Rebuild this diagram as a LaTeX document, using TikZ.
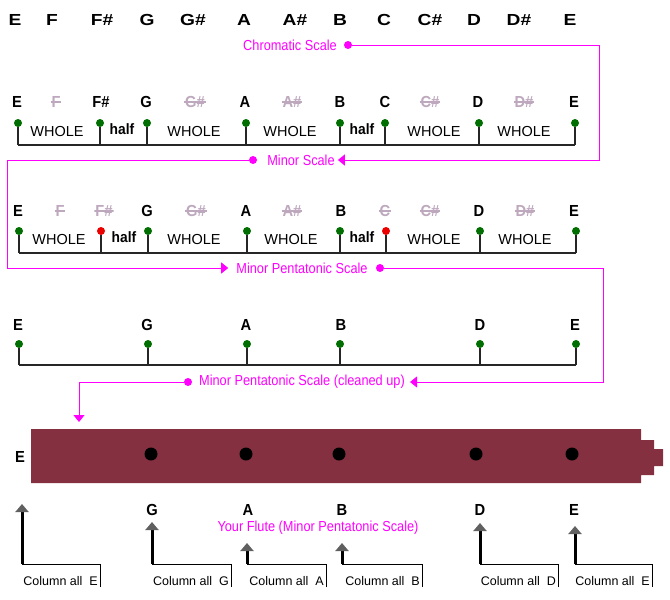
\documentclass[tikz,border=0pt]{standalone}
\usepackage{fontspec}
\setmainfont{Liberation Sans}
\newfontfamily\widefont[FakeStretch=1.2]{Liberation Sans}
\newfontfamily\narrowfont[FakeStretch=0.92]{Liberation Sans}
\newfontfamily\tallfont[FakeStretch=0.88]{Liberation Sans}
\usepackage{xcolor}
\usetikzlibrary{arrows.meta,calc,positioning}
\definecolor{flutered}{RGB}{132,48,64}
\definecolor{dotgreen}{RGB}{0,110,0}
\definecolor{dotred}{RGB}{235,0,0}
\definecolor{ghost}{RGB}{190,168,190}
\definecolor{tipgrey}{RGB}{96,96,96}
\definecolor{pink}{RGB}{255,0,255}
\tikzset{%
	bignote/.style = {font=\widefont\fontsize{16}{18}\selectfont\bfseries, inner sep=1pt},
	note/.style    = {font=\narrowfont\fontsize{16}{18}\selectfont\bfseries, inner sep=1pt},
	gone/.style    = {note, text=ghost, path picture={\draw[ghost, line width=1.2pt] (path picture bounding box.west) -- (path picture bounding box.east);}},
	whole/.style   = {font=\fontsize{14.5}{16}\selectfont, inner sep=1pt},
	half/.style    = {font=\narrowfont\fontsize{15}{17}\selectfont\bfseries, inner sep=1pt},
	key/.style     = {circle, inner sep=0pt, minimum size=8pt},
	stem/.style    = {line width=1.3pt, black!85},
	tag/.style     = {text=pink, font=\tallfont\fontsize{14.5}{16}\selectfont, inner sep=1pt},
	mdot/.style    = {circle, fill=pink, inner sep=0pt, minimum size=8pt},
	wire/.style    = {pink, line width=1pt},
	into/.style    = {-{Triangle[length=7pt,width=11pt]}},
	hole/.style    = {circle, fill=black, inner sep=0pt, minimum size=13pt},
	colnote/.style = {font=\fontsize{12.5}{14}\selectfont, inner sep=2pt, anchor=east},
	lead/.style    = {line width=0.8pt, black},
	pointer/.style = {line width=3pt, black, -{Triangle[length=8pt,width=13pt,color=tipgrey]}},
}
\begin{document}
\begin{tikzpicture}[x=1pt,y=-1pt]
	\useasboundingbox (0,0) rectangle (670,600);
	% chromatic scale
	\foreach \x/\n [count=\i] in {15/E, 52/F, 102/F\#, 147/G, 193/G\#, 244/A, 295/A\#, 340/B, 384/C, 430/C\#, 474/D, 519/D\#, 570/E}
		\node[bignote] (ch\i) at (\x,20) {\n};
	\node[tag] (chrom) at (290,45) {Chromatic Scale};
	\node[mdot] (chromdot) at (348,45) {};
	% minor scale
	\foreach \x/\n/\s [count=\i] in {17/E/note, 56/F/gone, 101/F\#/note, 146/G/note, 195/G\#/gone, 245/A/note, 292/A\#/gone, 340/B/note, 385/C/note, 430/C\#/gone, 478/D/note, 524/D\#/gone, 574/E/note}
		\node[\s] (mi\i) at (\x,102) {\n};
	\coordinate (mibase) at (0,145);
	\foreach \x [count=\i] in {18,100,147,246,340,385,479,575} {
		\node[key, fill=dotgreen] (mk\i) at (\x,123) {};
		\draw[stem] (mk\i) -- (mk\i |- mibase);
	}
	\draw[stem] (mk1 |- mibase) -- (mk8 |- mibase);
	\foreach \x/\g/\s/\y [count=\i] in {57/WHOLE/whole/132, 122/half/half/129, 194/WHOLE/whole/132, 290/WHOLE/whole/132, 362/half/half/129, 434/WHOLE/whole/132, 524/WHOLE/whole/132}
		\node[\s] (mg\i) at (\x,\y) {\g};
	\node[tag] (minor) at (301,160) {Minor Scale};
	\node[mdot] (minordot) at (253,160) {};
	\draw[wire, into, shorten >=2pt] (chromdot) -- (599,45) |- (minor);
	% minor pentatonic scale
	\foreach \x/\n/\s [count=\i] in {18/E/note, 60/F/gone, 104/F\#/gone, 147/G/note, 196/G\#/gone, 246/A/note, 292/A\#/gone, 341/B/note, 385/C/gone, 430/C\#/gone, 479/D/note, 525/D\#/gone, 574/E/note}
		\node[\s] (pe\i) at (\x,211) {\n};
	\coordinate (pebase) at (0,253);
	\foreach \x/\c [count=\i] in {19/dotgreen, 101/dotred, 148/dotgreen, 247/dotgreen, 340/dotgreen, 386/dotred, 480/dotgreen, 576/dotgreen} {
		\node[key, fill=\c] (pk\i) at (\x,231) {};
		\draw[stem] (pk\i) -- (pk\i |- pebase);
	}
	\draw[stem] (pk1 |- pebase) -- (pk8 |- pebase);
	\foreach \x/\g/\s/\y [count=\i] in {59/WHOLE/whole/240, 124/half/half/237, 194/WHOLE/whole/240, 291/WHOLE/whole/240, 362/half/half/237, 434/WHOLE/whole/240, 525/WHOLE/whole/240}
		\node[\s] (pg\i) at (\x,\y) {\g};
	\node[tag] (penta) at (302,268) {Minor Pentatonic Scale};
	\node[mdot] (pentadot) at (380,268) {};
	\draw[wire, into, shorten >=7pt] (minordot) -- (7,160) |- (penta);
	% cleaned up
	\foreach \x/\n [count=\i] in {18/E, 147/G, 246/A, 341/B, 480/D, 575/E}
		\node[note] (cl\i) at (\x,325) {\n};
	\coordinate (clbase) at (0,365);
	\foreach \x [count=\i] in {19,148,247,340,480,576} {
		\node[key, fill=dotgreen] (ck\i) at (\x,344) {};
		\draw[stem] (ck\i) -- (ck\i |- clbase);
	}
	\draw[stem] (ck1 |- clbase) -- (ck6 |- clbase);
	\node[tag] (clean) at (302,382) {Minor Pentatonic Scale (cleaned up)};
	\node[mdot] (cleandot) at (188,382) {};
	\draw[wire, into, shorten >=4pt] (pentadot) -- (603,268) |- (clean);
	\coordinate (entry) at (79,422);
	\draw[wire, into] (cleandot) -| (entry);
	% flute
	\fill[flutered] (31,429) -| (641,440) -| (654,449) -| (663,466) -| (654,475) -| (641,483) -- (31,483) -- cycle;
	\foreach \x [count=\i] in {151,246,339,476,572}
		\node[hole] (h\i) at (\x,454) {};
	\node[note] (fluteE) at (20,457) {E};
	\foreach \x/\n [count=\i] in {152/G, 248/A, 342/B, 480/D, 574/E}
		\node[note] (fl\i) at (\x,510) {\n};
	\node[tag] (yours) at (318,528) {Your Flute (Minor Pentatonic Scale)};
	% columns
	\foreach \x/\t/\r/\n [count=\i] in {22/504/100/E, 152/522/231/G, 247/543/326/A, 342/543/422/B, 480/523/558/D, 575/526/652/E} {
		\coordinate (tip\i) at (\x,\t);
		\coordinate (bend\i) at (\x,564);
		\coordinate (foot\i) at (\r,587);
		\node[colnote] (col\i) at (\r,581) {Column all~~\n};
		\draw[lead] (foot\i) |- (bend\i);
		\draw[pointer] (bend\i) -- (tip\i);
	}
\end{tikzpicture}
\end{document}
